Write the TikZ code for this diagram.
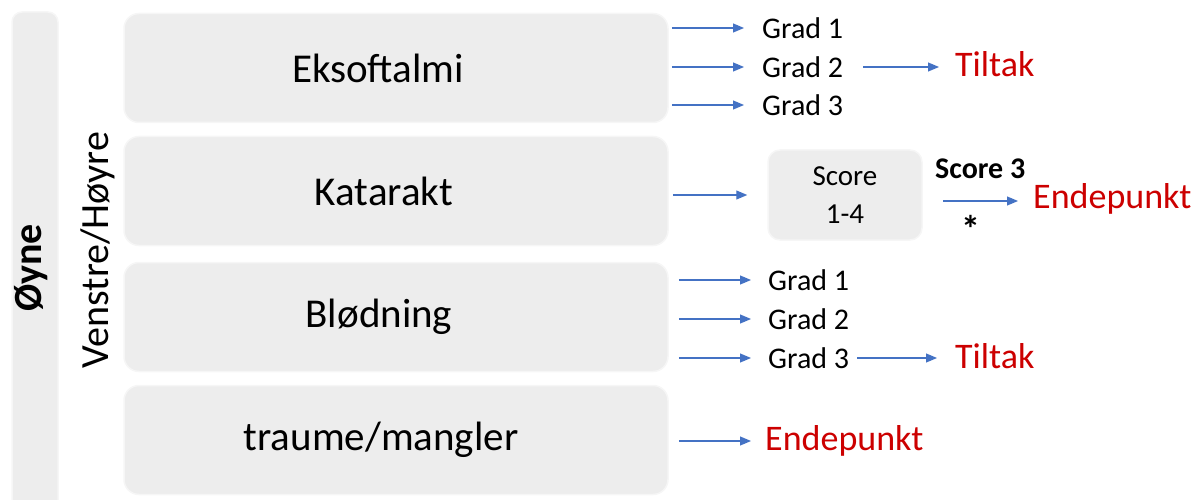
\documentclass[tikz,border=0pt]{standalone}
\usepackage{fontspec}
\setmainfont{Carlito}
\usetikzlibrary{arrows.meta}
\definecolor{boxfill}{RGB}{237,237,237}
\definecolor{boxline}{RGB}{246,246,246}
\definecolor{arrblue}{RGB}{68,114,196}
\definecolor{txtred}{RGB}{204,0,0}
\tikzset{
  catbox/.style={draw=boxline, line width=1.5pt, fill=boxfill, rounded corners=15pt,
    minimum width=544pt, minimum height=109pt, inner sep=0pt},
  catlabel/.style={inner sep=0pt, font=\fontsize{41}{41}\selectfont},
  grad/.style={anchor=west, inner sep=0pt, font=\fontsize{30}{30}\selectfont},
  redtxt/.style={anchor=west, inner sep=0pt, text=txtred, font=\fontsize{36}{36}\selectfont},
  arr/.style={draw=arrblue, line width=1.2pt, -{Triangle[length=11pt,width=9pt]}},
}
\begin{document}
\begin{tikzpicture}[x=1pt,y=-1pt]
\useasboundingbox (0,0) rectangle (1203,500);
% left bar
\node[draw=boxline, line width=1.5pt, fill=boxfill, rounded corners=10pt, minimum width=46pt,
  minimum height=500pt, inner sep=0pt] (bar) at (35,262) {};
\node[rotate=90, anchor=base, inner sep=0pt, font=\bfseries\fontsize{40}{40}\selectfont] (oyne) at (41,268) {Øyne};
\node[rotate=90, anchor=base, inner sep=0pt, font=\fontsize{40}{40}\selectfont] (vh) at (108,250) {Venstre/Høyre};
% category boxes
\node[catbox] (eks) at (396,68) {};
\node[catbox] (kat) at (396,191) {};
\node[catbox] (blo) at (396,317) {};
\node[catbox] (tra) at (396,440) {};
\node[catlabel] (eksl) at (378,68) {Eksoftalmi};
\node[catlabel] (katl) at (384,191) {Katarakt};
\node[catlabel] (blol) at (379,317) {Blødning};
\node[catlabel] (tral) at (381,440) {traume/mangler};
% Eksoftalmi
\node[grad] (e1) at (762,28) {Grad 1};
\node[grad] (e2) at (762,67) {Grad 2};
\node[grad] (e3) at (762,105) {Grad 3};
\node[redtxt] (et) at (955,64) {Tiltak};
\draw[arr] ([xshift=3pt]eks.east |- e1.west) -- ([xshift=-18pt]e1.west);
\draw[arr] ([xshift=3pt]eks.east |- e2.west) -- ([xshift=-18pt]e2.west);
\draw[arr] ([xshift=3pt]eks.east |- e3.west) -- ([xshift=-18pt]e3.west);
\draw[arr] ([xshift=20pt]e2.east) -- ([xshift=-16pt]et.west |- e2.west);
% Katarakt
\node[draw=boxline, line width=1.5pt, fill=boxfill, rounded corners=12pt, minimum width=154pt,
  minimum height=90pt, inner sep=0pt, align=center,
  font=\fontsize{29}{38}\selectfont] (score) at (845,195) {Score\\1-4};
\node[anchor=west, inner sep=0pt, font=\bfseries\fontsize{30}{30}\selectfont] (s3) at (935,169) {Score 3};
\node[redtxt] (kend) at (1033,199) {Endepunkt};
\node[anchor=base, inner sep=0pt, font=\bfseries\fontsize{38}{38}\selectfont] (star) at (971,243) {*};
\draw[arr] ([xshift=4pt]kat.east |- score.west) -- ([xshift=-20pt]score.west);
\draw[arr] ([xshift=-90pt]kend.west |- 0,201) -- ([xshift=-15pt]kend.west |- 0,201);
% Blødning
\node[grad] (b1) at (768,280) {Grad 1};
\node[grad] (b2) at (768,319) {Grad 2};
\node[grad] (b3) at (768,358) {Grad 3};
\node[redtxt] (bt) at (955,356) {Tiltak};
\draw[arr] ([xshift=10pt]blo.east |- b1.west) -- ([xshift=-17pt]b1.west);
\draw[arr] ([xshift=10pt]blo.east |- b2.west) -- ([xshift=-17pt]b2.west);
\draw[arr] ([xshift=10pt]blo.east |- b3.west) -- ([xshift=-17pt]b3.west);
\draw[arr] ([xshift=8pt]b3.east) -- ([xshift=-18pt]bt.west |- b3.west);
% traume
\node[redtxt] (tend) at (765,441) {Endepunkt};
\draw[arr] ([xshift=10pt]tra.east |- tend.west) -- ([xshift=-14pt]tend.west);
\end{tikzpicture}
\end{document}
